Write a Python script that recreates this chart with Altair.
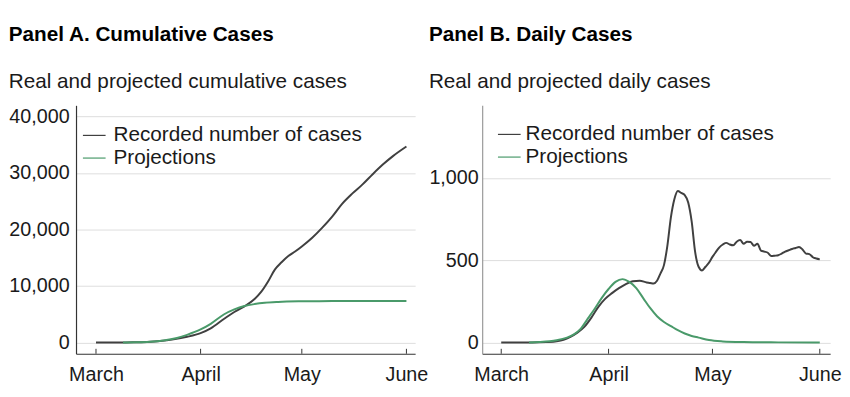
import altair as alt
import pandas as pd

FONT = "Liberation Sans"
REC = "Recorded number of cases"
PROJ = "Projections"
REC_COLOR = "#404040"
PROJ_COLOR = "#4a9a6a"

# ---- Panel A: cumulative cases ----
cum_rec_dates = ["2020-03-01", "2020-03-08", "2020-03-12", "2020-03-16", "2020-03-20", "2020-03-24",
                 "2020-03-28", "2020-04-01", "2020-04-04", "2020-04-08", "2020-04-11", "2020-04-14",
                 "2020-04-17", "2020-04-19", "2020-04-21", "2020-04-23", "2020-04-25", "2020-04-27",
                 "2020-04-29", "2020-05-01", "2020-05-04", "2020-05-07", "2020-05-10", "2020-05-13",
                 "2020-05-16", "2020-05-19", "2020-05-22", "2020-05-25", "2020-05-28", "2020-06-01"]
cum_rec_values = [0, 0, 30, 100, 250, 550,
                  1000, 1650, 2500, 4200, 5400, 6400,
                  7700, 9000, 10800, 12900, 14200, 15300,
                  16100, 17000, 18500, 20300, 22300, 24600,
                  26400, 28000, 29800, 31500, 33000, 34700]

cum_proj_dates = ["2020-03-09", "2020-03-13", "2020-03-17", "2020-03-21", "2020-03-25", "2020-03-28",
                  "2020-04-01", "2020-04-04", "2020-04-08", "2020-04-11", "2020-04-14", "2020-04-17",
                  "2020-04-20", "2020-04-24", "2020-04-30", "2020-05-10", "2020-05-20", "2020-06-01"]
cum_proj_values = [0, 30, 120, 350, 800, 1350,
                   2300, 3300, 5000, 5850, 6450, 6800,
                   7030, 7180, 7280, 7330, 7350, 7360]

# ---- Panel B: daily cases ----
day_rec_dates = ["2020-03-01", "2020-03-10", "2020-03-14", "2020-03-17", "2020-03-19", "2020-03-21",
                 "2020-03-23", "2020-03-25", "2020-03-27", "2020-03-29", "2020-03-31", "2020-04-02",
                 "2020-04-04", "2020-04-06", "2020-04-08", "2020-04-10", "2020-04-12", "2020-04-13",
                 "2020-04-14", "2020-04-15", "2020-04-16", "2020-04-17", "2020-04-18", "2020-04-19",
                 "2020-04-20", "2020-04-21", "2020-04-22", "2020-04-23", "2020-04-24", "2020-04-25",
                 "2020-04-26", "2020-04-27", "2020-04-28", "2020-04-29", "2020-04-30", "2020-05-01",
                 "2020-05-02", "2020-05-03", "2020-05-04", "2020-05-05", "2020-05-06", "2020-05-07",
                 "2020-05-08", "2020-05-09", "2020-05-10", "2020-05-11", "2020-05-12", "2020-05-13",
                 "2020-05-14", "2020-05-15", "2020-05-16", "2020-05-17", "2020-05-18", "2020-05-19",
                 "2020-05-20", "2020-05-21", "2020-05-22", "2020-05-23", "2020-05-24", "2020-05-25",
                 "2020-05-26", "2020-05-27", "2020-05-28", "2020-05-29", "2020-05-30", "2020-05-31",
                 "2020-06-01"]
day_rec_values = [0, 0, 3, 8, 17, 35,
                  60, 95, 150, 215, 265, 300,
                  330, 355, 372, 375, 365, 362,
                  358, 375, 420, 470, 590, 760,
                  870, 920, 908, 895, 850, 735,
                  550, 460, 438, 460, 485, 520,
                  550, 578, 595, 605, 595, 590,
                  612, 622, 600, 612, 610, 588,
                  600, 558, 552, 545, 525, 527,
                  530, 540, 552, 560, 568, 574,
                  580, 565, 540, 537, 518, 510,
                  505]

day_proj_dates = ["2020-03-09", "2020-03-12", "2020-03-15", "2020-03-17", "2020-03-20", "2020-03-22",
                  "2020-03-24", "2020-03-26", "2020-03-28", "2020-03-30", "2020-04-01", "2020-04-03",
                  "2020-04-05", "2020-04-07", "2020-04-09", "2020-04-11", "2020-04-13", "2020-04-15",
                  "2020-04-17", "2020-04-19", "2020-04-21", "2020-04-23", "2020-04-25", "2020-04-27",
                  "2020-04-30", "2020-05-04", "2020-05-10", "2020-05-20", "2020-06-01"]
day_proj_values = [0, 3, 8, 14, 30, 50,
                   85, 145, 205, 270, 325, 368,
                   385, 368, 330, 270, 210, 160,
                   125, 100, 75, 55, 40, 30,
                   15, 7, 3, 1, 0]

month_ticks = ["2020-03-01", "2020-04-01", "2020-05-01", "2020-06-01"]
cum_y_ticks = [0, 10000, 20000, 30000, 40000]
day_y_ticks = [0, 500, 1000]


def frame(dates, values, name):
    return pd.DataFrame({"date": dates, "value": values, "series": name})


cum_df = pd.concat([frame(cum_rec_dates, cum_rec_values, REC),
                    frame(cum_proj_dates, cum_proj_values, PROJ)])
day_df = pd.concat([frame(day_rec_dates, day_rec_values, REC),
                    frame(day_proj_dates, day_proj_values, PROJ)])
tick_df = pd.DataFrame({"date": month_ticks})

H = 252


def dt(m, d, h=0):
    return alt.DateTime(year=2020, month=m, date=d, hours=h, utc=True)


def panel(df, title, subtitle, xdom, ydom, yvals, width, ylabpad, yaxcolor, legx, legy, laboff):
    xscale = alt.Scale(type="utc", domain=xdom)
    color = alt.Color(
        "series:N",
        scale=alt.Scale(domain=[REC, PROJ], range=[REC_COLOR, PROJ_COLOR]),
        legend=alt.Legend(
            title=None, orient="none", legendX=legx, legendY=legy,
            symbolType="stroke", symbolSize=529, symbolStrokeWidth=1.2,
            labelFontSize=21, labelFont=FONT, labelColor="#1a1a1a", labelLimit=400,
            labelOffset=laboff, rowPadding=0, padding=0,
        ),
        sort=[REC, PROJ],
    )
    lines = alt.Chart(df).mark_line(strokeWidth=2, interpolate="monotone").encode(
        x=alt.X("date:T", scale=xscale, title=None,
                axis=alt.Axis(values=[dt(3, 1), dt(4, 1), dt(5, 1), dt(6, 1)],
                              labelExpr="utcFormat(datum.value, '%B')",
                              ticks=False, grid=False, domainColor="#333333",
                              domainWidth=1.2, labelFontSize=20, labelFont=FONT,
                              labelColor="#1a1a1a", labelPadding=11)),
        y=alt.Y("value:Q", scale=alt.Scale(domain=ydom, nice=False, zero=False), title=None,
                axis=alt.Axis(values=yvals, format=",.0f", ticks=False, grid=True,
                              gridColor="#dddddd", gridWidth=1, domainColor=yaxcolor,
                              domainWidth=1.2, labelFontSize=20, labelFont=FONT,
                              labelColor="#1a1a1a", labelPadding=ylabpad)),
        color=color,
        detail="series:N",
    )
    ticks = alt.Chart(tick_df).mark_rule(color="#333333", strokeWidth=1).encode(
        x=alt.X("date:T", scale=xscale),
        y=alt.value(H - 5),
        y2=alt.value(H),
    )
    return alt.layer(lines, ticks).properties(
        width=width, height=H,
        title=alt.TitleParams(
            text=title, subtitle=subtitle, anchor="start", frame="bounds",
            font=FONT, fontSize=21, fontWeight="bold", color="#000000",
            subtitleFont=FONT, subtitleFontSize=21, subtitleColor="#1a1a1a",
            subtitlePadding=26.5, offset=14,
        ),
    )


panelA = panel(cum_df, "Panel A. Cumulative Cases", "Real and projected cumulative cases",
               [dt(2, 24, 2), dt(6, 3, 14)], [-2000, 42000], cum_y_ticks,
               344, 7, "#333333", 6, 18, 7)
panelB = panel(day_df, "Panel B. Daily Cases", "Real and projected daily cases",
               [dt(2, 24, 12), dt(6, 4, 0)], [-68, 1440], day_y_ticks,
               353, 4, "#999999", 15, 17, 4)

chart = alt.hconcat(panelA, panelB, spacing=0).resolve_legend(color="independent").resolve_scale(
    x="independent", y="independent", color="independent"
).properties(
    padding={"left": 0, "top": 13, "right": 0, "bottom": 0},
    background="white",
).configure_view(strokeWidth=0, stroke="transparent")

chart.save("out.html", embed_options={"renderer": "svg", "actions": False})
